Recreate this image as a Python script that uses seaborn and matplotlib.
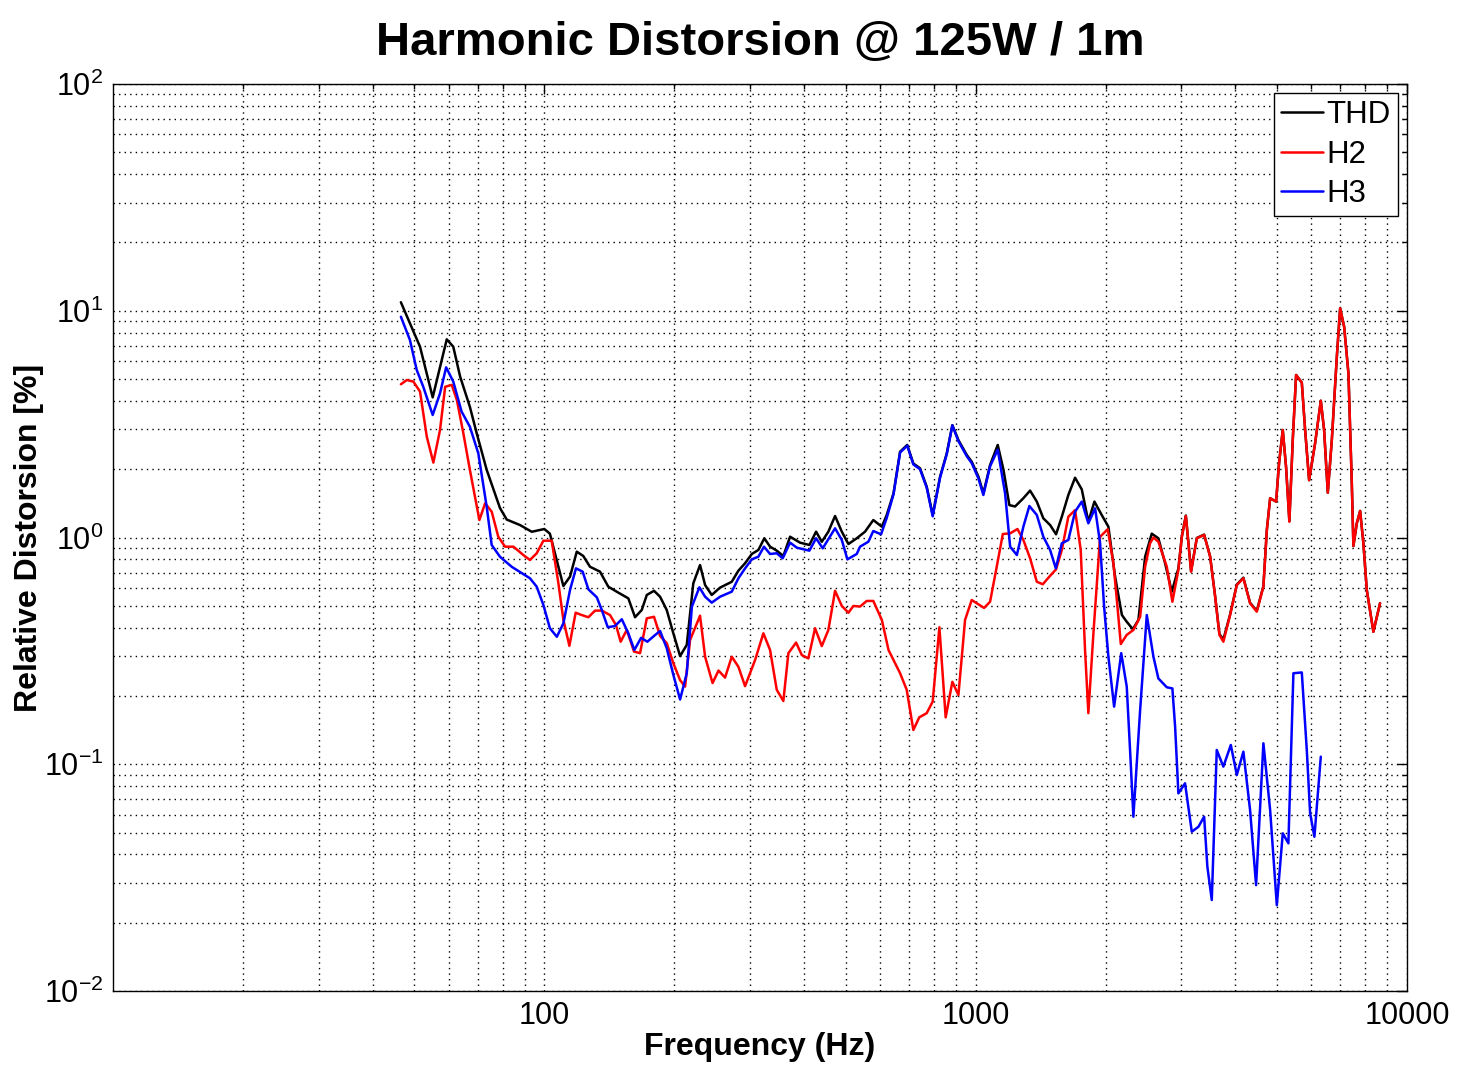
import numpy as np
import pandas as pd
import matplotlib
matplotlib.use("Agg")
import matplotlib.pyplot as plt
import seaborn as sns
from matplotlib.ticker import LogLocator, NullFormatter

# ---------------- data ----------------
thd_freq = [46.5, 51.5, 55.1, 59.4, 61.5, 63.8, 67.2, 69.7, 73.5, 78.9, 81.8, 87.8, 93.5, 100, 103,
            110.7, 114.7, 118.9, 123.1, 127.6, 134.6, 140.7, 148.5, 156.6, 162.3, 168.2, 172.8, 179.6,
            185.5, 192.2, 199.1, 206.4, 213.9, 221.5, 229.6, 235.9, 244.4, 255.5, 272, 281.8, 292,
            302.7, 313.5, 323.6, 333.7, 345.8, 358.2, 371.3, 391.6, 411.6, 426.6, 439.8, 455.5, 472.1,
            489.4, 507, 530, 554, 579, 606, 622, 645, 668, 694, 717, 743, 770, 795, 827, 857, 883, 912,
            954, 979, 1015, 1042, 1080, 1125, 1160, 1197, 1234, 1290, 1337, 1386, 1435, 1488, 1536,
            1584, 1640, 1700, 1762, 1825, 1885, 1960, 2031, 2105, 2183, 2240, 2314, 2384, 2471, 2560,
            2652, 2749, 2849, 2951, 3006, 3071, 3158, 3256, 3386, 3496, 3591, 3674, 3752, 3889, 4031,
            4175, 4327, 4485, 4646, 4732, 4816, 4972, 5050, 5152, 5243, 5337, 5434, 5532, 5703, 5805,
            5930, 6122, 6312, 6424, 6552, 6694, 6876, 6998, 7149, 7315, 7448, 7512, 7649, 7786, 7923,
            8068, 8357, 8660]
thd_val = [10.9, 6.94, 4.15, 7.48, 6.94, 5.12, 3.77, 2.88, 1.99, 1.35, 1.20, 1.135, 1.06, 1.09, 1.04,
           0.611, 0.672, 0.866, 0.829, 0.743, 0.707, 0.607, 0.571, 0.539, 0.445, 0.479, 0.558, 0.582,
           0.548, 0.479, 0.378, 0.300, 0.336, 0.628, 0.756, 0.617, 0.558, 0.601, 0.638, 0.714, 0.770,
           0.846, 0.881, 0.992, 0.911, 0.875, 0.829, 1.008, 0.949, 0.927, 1.061, 0.958, 1.061, 1.244,
           1.061, 0.936, 0.992, 1.061, 1.194, 1.116, 1.257, 1.566, 2.39, 2.56, 2.12, 2.02, 1.675, 1.257,
           1.854, 2.35, 3.13, 2.69, 2.31, 2.16, 1.854, 1.566, 2.09, 2.56, 1.99, 1.39, 1.37, 1.49, 1.61,
           1.44, 1.215, 1.135, 1.033, 1.235, 1.54, 1.835, 1.63, 1.174, 1.44, 1.257, 1.116, 0.672, 0.455,
           0.425, 0.394, 0.433, 0.823, 1.04, 0.992, 0.770, 0.577, 0.73, 1.01, 1.25, 0.71, 0.995, 1.03,
           0.825, 0.55, 0.375, 0.355, 0.457, 0.62, 0.665, 0.515, 0.475, 0.61, 1.08, 1.49, 1.44, 2.12,
           2.98, 2.05, 1.18, 2.69, 5.21, 4.82, 2.98, 1.79, 2.60, 4.01, 2.98, 1.576, 2.69, 6.27, 10.25,
           8.51, 5.30, 1.73, 0.917, 1.155, 1.31, 0.943, 0.587, 0.384, 0.513]

h2_freq = [46.5, 48.0, 49.7, 51.5, 53.4, 55.3, 57.3, 58.9, 61.0, 62.7, 64.9, 67.2, 70.7, 72.9, 75.5,
           78.2, 81.1, 84.8, 89.4, 92.6, 96.0, 99.5, 104, 107.8, 110.7, 114.3, 118.2, 122.1, 126.5,
           131.1, 135.9, 142.0, 146.6, 150.3, 155.3, 161.4, 166.7, 172.8, 179.6, 185.5, 192.2, 199.1,
           206.4, 212, 217.7, 229.6, 235.9, 245.5, 253.4, 262.4, 272, 281.8, 292, 308, 322, 333.7,
           345.8, 358.2, 368, 383.4, 395.3, 409.4, 424.3, 439.8, 455.5, 472.1, 489.4, 507, 520.6,
           539.5, 559, 579, 606, 628, 668, 692, 717, 740, 770, 795, 824, 852, 883, 912, 945, 979,
           1046, 1080, 1119, 1156, 1202, 1250, 1290, 1337, 1386, 1431, 1482, 1536, 1584, 1640, 1700,
           1752, 1793, 1825, 1875, 1943, 2024, 2086, 2125, 2170, 2240, 2321, 2406, 2471, 2537, 2583,
           2652, 2774, 2858, 2951, 3006, 3071, 3158, 3256, 3386, 3496, 3591, 3674, 3752, 3889, 4031,
           4175, 4327, 4485, 4646, 4732, 4816, 4972, 5050, 5152, 5243, 5337, 5434, 5532, 5703, 5805,
           5930, 6122, 6312, 6424, 6552, 6694, 6876, 6998, 7149, 7315, 7448, 7512, 7649, 7786, 7923,
           8068, 8357, 8660]
h2_val = [4.74, 4.95, 4.87, 4.40, 2.78, 2.14, 2.98, 4.62, 4.71, 4.04, 2.88, 1.99, 1.194, 1.415, 1.30,
          1.008, 0.911, 0.911, 0.837, 0.796, 0.852, 0.968, 0.968, 0.628, 0.433, 0.333, 0.466, 0.455,
          0.445, 0.476, 0.476, 0.455, 0.411, 0.347, 0.391, 0.314, 0.309, 0.440, 0.447, 0.368, 0.342,
          0.279, 0.235, 0.220, 0.353, 0.452, 0.298, 0.228, 0.259, 0.241, 0.298, 0.269, 0.221, 0.288,
          0.378, 0.319, 0.213, 0.190, 0.309, 0.344, 0.303, 0.293, 0.398, 0.332, 0.391, 0.582, 0.499,
          0.466, 0.499, 0.496, 0.525, 0.525, 0.433, 0.319, 0.252, 0.213, 0.1416, 0.161, 0.168, 0.189,
          0.402, 0.161, 0.231, 0.202, 0.433, 0.530, 0.489, 0.521, 0.743, 1.036, 1.043, 1.09, 0.975,
          0.810, 0.638, 0.622, 0.672, 0.724, 0.881, 1.235, 1.32, 0.881, 0.319, 0.168, 0.378, 1.008,
          1.087, 0.770, 0.530, 0.339, 0.372, 0.391, 0.447, 0.743, 0.943, 1.00, 0.958, 0.743, 0.521,
          0.719, 1.008, 1.244, 0.707, 0.992, 1.026, 0.823, 0.548, 0.372, 0.347, 0.455, 0.617, 0.661,
          0.513, 0.471, 0.607, 1.079, 1.49, 1.44, 2.12, 2.98, 2.05, 1.174, 2.69, 5.21, 4.82, 2.98, 1.79,
          2.60, 4.01, 2.98, 1.576, 2.69, 6.27, 10.25, 8.51, 5.30, 1.73, 0.917, 1.155, 1.31, 0.943, 0.587,
          0.384, 0.513]

h3_freq = [46.5, 48.8, 50.6, 52.4, 55.1, 57.3, 59.2, 61.5, 64.3, 67.2, 70.3, 73.5, 75.5, 78.9, 84.0,
           92.6, 96.0, 99.5, 103, 106.9, 110.7, 114.7, 118.4, 122.7, 126.5, 132.3, 135.9, 140.3, 145.8,
           151.2, 156.6, 161.7, 167.6, 173.3, 179.6, 185.5, 192.2, 199.1, 206.4, 213.9, 219.8, 228.8,
           235.9, 244.4, 255.5, 272, 281.8, 292, 302.7, 313.5, 323, 333.7, 345.8, 357, 371.3, 384.8,
           411.6, 426.6, 442, 472.1, 489.4, 504.2, 530, 539.5, 564, 579, 603.5, 622, 645, 668, 694, 717,
           743, 770, 795, 827, 857, 883, 912, 954, 979, 1015, 1042, 1080, 1125, 1170, 1202, 1246, 1290,
           1332, 1386, 1435, 1488, 1534, 1584, 1640, 1700, 1762, 1825, 1892, 1943, 1985, 2031, 2094,
           2175, 2240, 2280, 2321, 2406, 2493, 2583, 2652, 2774, 2858, 2900, 2951, 3058, 3170, 3284,
           3386, 3445, 3527, 3622, 3752, 3904, 4031, 4175, 4327, 4468, 4646, 4816, 4991, 5152, 5309,
           5453, 5703, 5857, 5962, 6100, 6232, 6312]
h3_val = [9.41, 7.43, 5.48, 4.62, 3.47, 4.32, 5.63, 4.87, 3.59, 3.08, 2.35, 1.37, 0.927, 0.823, 0.743,
          0.661, 0.607, 0.504, 0.398, 0.365, 0.418, 0.587, 0.731, 0.707, 0.591, 0.545, 0.479, 0.402,
          0.407, 0.436, 0.378, 0.319, 0.361, 0.347, 0.368, 0.387, 0.325, 0.248, 0.193, 0.252, 0.495,
          0.603, 0.548, 0.516, 0.548, 0.577, 0.661, 0.731, 0.801, 0.823, 0.911, 0.846, 0.852, 0.810,
          0.949, 0.902, 0.875, 0.992, 0.896, 1.098, 0.975, 0.801, 0.846, 0.911, 0.958, 1.068, 1.033,
          1.22, 1.55, 2.37, 2.54, 2.10, 2.00, 1.66, 1.24, 1.84, 2.33, 3.12, 2.66, 2.28, 2.13, 1.82, 1.54,
          2.06, 2.44, 1.566, 0.911, 0.837, 1.116, 1.377, 1.257, 1.008, 0.881, 0.731, 0.943, 0.975, 1.30,
          1.44, 1.155, 1.345, 0.943, 0.496, 0.298, 0.1795, 0.309, 0.220, 0.1156, 0.0587, 0.1735, 0.455,
          0.298, 0.239, 0.2185, 0.216, 0.1464, 0.0744, 0.0824, 0.0504, 0.0530, 0.0587, 0.0353, 0.0252,
          0.1156, 0.0976, 0.1216, 0.0897, 0.1136, 0.0628, 0.0293, 0.1237, 0.0628, 0.0239, 0.0496,
          0.0448, 0.252, 0.254, 0.1156, 0.0608, 0.0479, 0.0796, 0.108]

series_names = ["THD", "H2", "H3"]
series_colors = ["#000000", "#ff0000", "#0000ff"]
x_tick_values = [100, 1000, 10000]
x_tick_labels = ["100", "1000", "10000"]

# ---------------- style ----------------
sns.set_theme(style="white")
plt.rcParams["font.family"] = ["Liberation Sans", "DejaVu Sans"]
plt.rcParams["mathtext.default"] = "regular"

fig = plt.figure(figsize=(14.67, 10.82), dpi=100)
W, H = 1467, 1082
ax = fig.add_axes([113 / W, 1 - 991 / H, (1407 - 113) / W, (991 - 84) / H])

freqs = [thd_freq, h2_freq, h3_freq]
vals = [thd_val, h2_val, h3_val]
for name, col, f, v in zip(series_names, series_colors, freqs, vals):
    df = pd.DataFrame({"Frequency": f, "Distortion": v})
    sns.lineplot(data=df, x="Frequency", y="Distortion", ax=ax, color=col, lw=1.8,
                 label=name, estimator=None, sort=False)

ax.set_xscale("log")
ax.set_yscale("log")
ax.set_xlim(10, 10000)
ax.set_ylim(0.01, 100)

ax.set_xticks(x_tick_values)
ax.set_xticklabels(x_tick_labels)
ax.xaxis.set_minor_locator(LogLocator(base=10, subs=np.arange(2, 10), numticks=20))
ax.xaxis.set_minor_formatter(NullFormatter())
ax.yaxis.set_major_locator(LogLocator(base=10, numticks=10))
ax.yaxis.set_minor_locator(LogLocator(base=10, subs=np.arange(2, 10), numticks=20))
ax.yaxis.set_minor_formatter(NullFormatter())

ax.tick_params(which="both", direction="in", top=True, right=True, colors="black")
ax.tick_params(which="major", length=7, width=1.0, labelsize=22, pad=7)
ax.tick_params(which="minor", length=3.5, width=1.0)

ax.grid(True, which="both", color="black", linestyle=(0, (1, 3)), linewidth=1.0)
for s in ax.spines.values():
    s.set_visible(True)
    s.set_color("black")
    s.set_linewidth(1.0)

ax.set_xlabel("Frequency (Hz)", fontsize=23, fontweight="bold", labelpad=1, color="black")
ax.set_ylabel("Relative Distorsion [%]", fontsize=23, fontweight="bold", labelpad=0, color="black")
ax.set_title("Harmonic Distorsion @ 125W / 1m", fontsize=34, fontweight="bold", pad=21, color="black")

leg = ax.legend(loc="upper right", fontsize=22.5, frameon=True, fancybox=False, edgecolor="black",
                framealpha=1, borderaxespad=0.3, handlelength=1.35, handletextpad=0.12,
                labelspacing=0.3, borderpad=0.22)
leg.get_frame().set_linewidth(1.0)
for t in leg.get_texts():
    t.set_color("black")

fig.savefig("out.png", dpi=100)
